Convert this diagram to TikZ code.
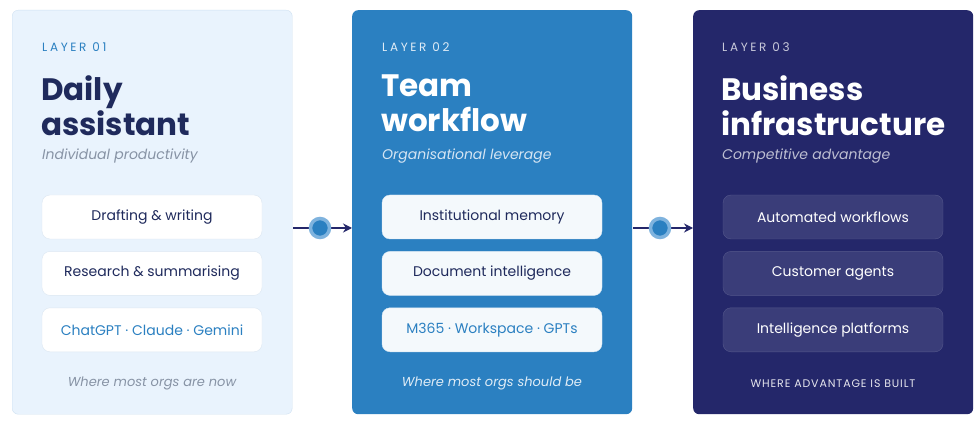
\documentclass[tikz,border=0pt]{standalone}
\usepackage{fontspec}
\setmainfont{Poppins}
\usepackage{xcolor}
\definecolor{layerNavy}{HTML}{24276A}
\definecolor{layerBlue}{HTML}{2B80C1}
\definecolor{layerPale}{HTML}{E9F3FD}
\definecolor{layerEdge}{HTML}{CFE1F2}
\definecolor{itemEdge}{HTML}{DCE7F2}
\definecolor{textNavy}{HTML}{1F2A5C}
\definecolor{textGray}{HTML}{8793A5}
\definecolor{dotLight}{HTML}{7FB3DE}
\usetikzlibrary{arrows.meta,positioning}
\tikzset{
    panel/.style={
        rectangle,
        rounded corners=6pt,
        minimum width=280pt,
        minimum height=404pt,
        anchor=north west
    },
    item/.style={
        rectangle,
        rounded corners=8pt,
        minimum width=220pt,
        minimum height=44pt,
        align=center,
        font=\fontsize{14}{16}\selectfont
    },
    tag/.style={
        anchor=west,
        inner sep=0pt,
        font=\fontsize{12}{13}\selectfont\addfontfeatures{LetterSpace=22}
    },
    heading/.style={
        anchor=north west,
        inner sep=0pt,
        align=left,
        font=\fontsize{31}{35}\selectfont\bfseries
    },
    sub/.style={
        anchor=west,
        inner sep=0pt,
        font=\fontsize{14}{16}\selectfont\itshape
    },
    footer/.style={
        inner sep=0pt,
        font=\fontsize{13}{15}\selectfont\itshape
    },
    arrow/.style={
        -{Stealth[length=9pt,width=9pt]},
        line width=1.6pt,
        color=layerNavy
    },
    dot/.style={
        circle,
        fill=layerBlue,
        draw=dotLight,
        line width=3.5pt,
        minimum size=19pt,
        inner sep=0pt
    }
}
\begin{document}
\begin{tikzpicture}[x=1pt,y=-1pt]
    \useasboundingbox (0,0) rectangle (980,422);
    \fill[white] (0,0) rectangle (980,422);

    % Layer 01
    \node[panel, fill=layerPale, draw=layerEdge] (p1) at (12,10) {};
    \node[tag, text=layerBlue] (t1) at (42,47) {LAYER 01};
    \node[heading, text=textNavy] (h1) at (41,75) {Daily\\assistant};
    \node[sub, text=textGray] (s1) at (42,156) {Individual productivity};
    \node[item, fill=white, draw=itemEdge, text=textNavy] (a1) at (152,217) {Drafting \& writing};
    \node[item, fill=white, draw=itemEdge, text=textNavy, below=12pt of a1] (b1) {Research \& summarising};
    \node[item, fill=white, draw=itemEdge, text=layerBlue, below=12pt of b1] (c1) {ChatGPT · Claude · Gemini};
    \node[footer, text=textGray] (f1) at (152,383) {Where most orgs are now};

    % Layer 02
    \node[panel, fill=layerBlue] (p2) at (352,10) {};
    \node[tag, text=white!85!layerBlue] (t2) at (382,47) {LAYER 02};
    \node[heading, text=white] (h2) at (381,75) {Team\\workflow};
    \node[sub, text=white!80!layerBlue] (s2) at (382,156) {Organisational leverage};
    \node[item, fill=white!95!layerBlue, draw=white!80!layerBlue, text=textNavy] (a2) at (492,217) {Institutional memory};
    \node[item, fill=white!95!layerBlue, draw=white!80!layerBlue, text=textNavy, below=12pt of a2] (b2) {Document intelligence};
    \node[item, fill=white!95!layerBlue, draw=white!80!layerBlue, text=layerBlue, below=12pt of b2] (c2) {M365 · Workspace · GPTs};
    \node[footer, text=white!85!layerBlue] (f2) at (492,383) {Where most orgs should be};

    % Layer 03
    \node[panel, fill=layerNavy] (p3) at (693,10) {};
    \node[tag, text=white!75!layerNavy] (t3) at (722,47) {LAYER 03};
    \node[heading, text=white] (h3) at (721,75) {Business\\infrastructure};
    \node[sub, text=white!70!layerNavy] (s3) at (722,156) {Competitive advantage};
    \node[item, fill=white!10!layerNavy, draw=white!22!layerNavy, text=white] (a3) at (833,217) {Automated workflows};
    \node[item, fill=white!10!layerNavy, draw=white!22!layerNavy, text=white, below=12pt of a3] (b3) {Customer agents};
    \node[item, fill=white!10!layerNavy, draw=white!22!layerNavy, text=white, below=12pt of b3] (c3) {Intelligence platforms};
    \node[inner sep=0pt, text=white!88!layerNavy, font=\fontsize{11}{12}\selectfont\addfontfeatures{LetterSpace=8}] (f3) at (833,384) {WHERE ADVANTAGE IS BUILT};

    % Arrows
    \coordinate (e1) at (293,228);
    \coordinate (e2) at (633,228);
    \draw[arrow] (e1) -- (p2.west |- e1);
    \draw[arrow] (e2) -- (p3.west |- e2);
    \node[dot] (d1) at (320,228) {};
    \node[dot] (d2) at (660,228) {};
\end{tikzpicture}
\end{document}
